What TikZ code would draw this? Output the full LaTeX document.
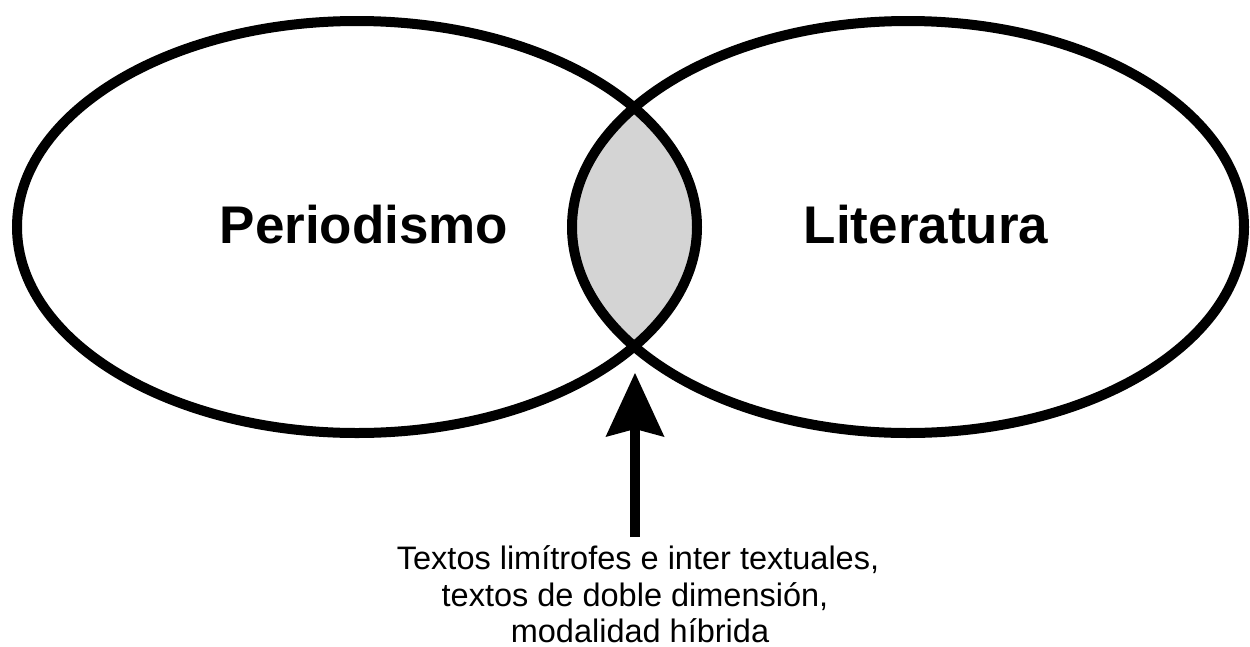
\documentclass[tikz,border=0pt]{standalone}
\usepackage{fontspec}
\setmainfont{Liberation Sans}
\usetikzlibrary{arrows.meta}
\definecolor{lensgray}{RGB}{212,212,212}
\begin{document}
\begin{tikzpicture}[x=1pt,y=-1pt,
  venn/.style={line width=10pt, draw=black},
  setlabel/.style={font=\fontsize{53}{60}\selectfont\bfseries, inner sep=0pt, anchor=base},
  caption/.style={font=\fontsize{32.5}{38}\selectfont, inner sep=0pt, anchor=base},
  pointer/.style={line width=10pt, -{Stealth[length=64pt,width=59pt,inset=8pt,line width=0pt]}}]
\useasboundingbox (0,0) rectangle (1250,646);
\coordinate (cl) at (357,227);
\coordinate (cr) at (908,227);
\begin{scope}
  \clip (cl) ellipse [x radius=340pt, y radius=206pt];
  \fill[lensgray] (cr) ellipse [x radius=336pt, y radius=206pt];
\end{scope}
\draw[venn] (cl) ellipse [x radius=340pt, y radius=206pt];
\draw[venn] (cr) ellipse [x radius=336pt, y radius=206pt];
\node[setlabel] (per) at (364,243) {Periodismo};
\node[setlabel] (lit) at (926,243) {Literatura};
\node[caption] (l1) at (638,569) {Textos limítrofes e inter textuales,};
\node[caption] (l2) at (635,606) {textos de doble dimensión,};
\node[caption] (l3) at (640,642) {modalidad híbrida};
\coordinate (tail) at (635,537);
\coordinate (tip) at (635,373);
\draw[pointer] (tail) -- (tip);
\end{tikzpicture}
\end{document}
